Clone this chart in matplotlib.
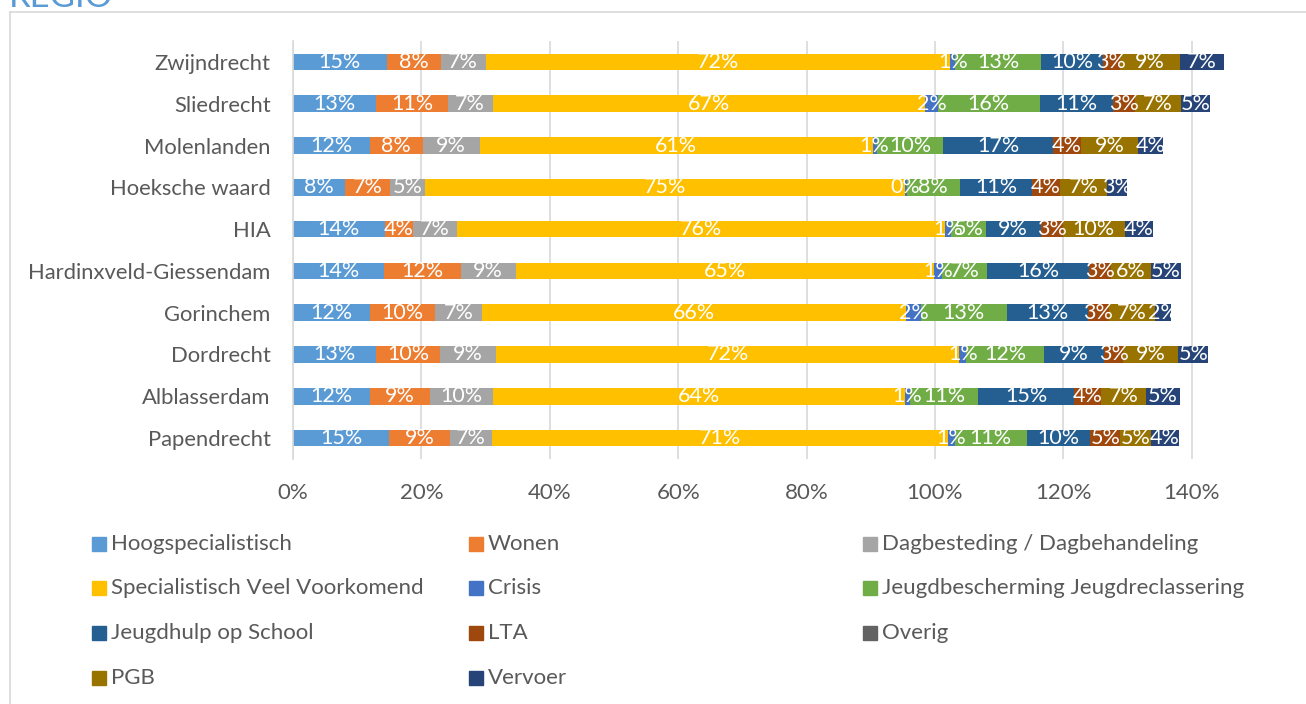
import matplotlib
matplotlib.use("Agg")
import matplotlib.pyplot as plt
import numpy as np
from matplotlib.patches import Rectangle
from matplotlib.lines import Line2D

plt.rcParams['font.family'] = ['Lato', 'DejaVu Sans']

categories = ["Zwijndrecht", "Sliedrecht", "Molenlanden", "Hoeksche waard", "HIA",
              "Hardinxveld-Giessendam", "Gorinchem", "Dordrecht", "Alblasserdam", "Papendrecht"]

series_names = ["Hoogspecialistisch", "Wonen", "Dagbesteding / Dagbehandeling",
                "Specialistisch Veel Voorkomend", "Crisis", "Jeugdbescherming Jeugdreclassering",
                "Jeugdhulp op School", "LTA", "Overig", "PGB", "Vervoer"]

hoogspecialistisch = [14.6, 13.0, 12.0, 8.1, 14.3, 14.1, 12.0, 12.9, 12.0, 15.0]
wonen = [8.4, 11.1, 8.2, 7.0, 4.4, 12.0, 10.1, 10.0, 9.4, 9.4]
dagbesteding = [7.0, 7.0, 8.9, 5.4, 6.9, 8.6, 7.4, 8.7, 9.7, 6.6]
svv = [72.4, 67.3, 61.2, 74.8, 75.9, 65.2, 66.0, 72.2, 64.2, 71.1]
crisis = [0.8, 2.1, 0.6, 0.3, 1.0, 1.2, 2.3, 1.1, 0.8, 1.0]
jeugdbescherming = [13.4, 15.8, 10.4, 8.3, 5.4, 7.0, 13.4, 12.1, 10.6, 11.2]
jeugdhulp_school = [9.6, 11.4, 17.1, 11.2, 8.6, 15.9, 12.6, 9.4, 15.0, 9.9]
lta = [2.6, 3.4, 4.4, 4.4, 3.4, 3.4, 3.3, 2.9, 4.1, 4.7]
overig = [0, 0, 0, 0, 0, 0, 0, 0, 0, 0]
pgb = [9.4, 7.2, 8.8, 7.3, 9.7, 6.2, 7.2, 8.6, 7.1, 4.8]
vervoer = [6.8, 4.6, 3.9, 3.1, 4.4, 4.7, 2.4, 4.7, 5.2, 4.3]

series_values = [hoogspecialistisch, wonen, dagbesteding, svv, crisis, jeugdbescherming,
                 jeugdhulp_school, lta, overig, pgb, vervoer]

colors = ["#5B9BD5", "#ED7D31", "#A5A5A5", "#FFC000", "#4472C4", "#70AD47",
          "#255E91", "#9E480E", "#636363", "#997300", "#264478"]

xticks = [0, 0.2, 0.4, 0.6, 0.8, 1.0, 1.2, 1.4]

W, H = 1306, 704
fig = plt.figure(figsize=(W / 100, H / 100), dpi=100)

# outer frame lines
fig.add_artist(Line2D([10 / W, 10 / W], [0, 1 - 12 / H], transform=fig.transFigure,
                      color="#d9d9d9", lw=1.2))
fig.add_artist(Line2D([10 / W, 1], [1 - 12 / H, 1 - 12 / H], transform=fig.transFigure,
                      color="#d9d9d9", lw=1.2))
fig.text(9 / W, 1 - 7 / H, "REGIO", color="#5B9BD5", fontsize=25, ha="left", va="baseline")

xmax = 1.46
px_per_unit = (1191.7 - 293) / 1.4
left = 293 / W
width = xmax * px_per_unit / W
top_px, bot_px = 41, 459
ax = fig.add_axes([left, 1 - bot_px / H, width, (bot_px - top_px) / H])

y = np.arange(len(categories))
cum = np.zeros(len(categories))
for name, vals, col in zip(series_names, series_values, colors):
    v = np.array(vals) / 100.0
    ax.barh(y, v, left=cum, height=0.4, color=col, edgecolor="none", label=name)
    for yi, (c, w) in enumerate(zip(cum, v)):
        if w > 0:
            ax.text(c + w / 2, yi, f"{w * 100:.0f}%", ha="center", va="center",
                    color="white", fontsize=15.5)
    cum += v

ax.set_ylim(len(categories) - 0.5, -0.5)
ax.set_xlim(0, xmax)
ax.set_yticks(y)
ax.set_yticklabels(categories, fontsize=15.8, color="#595959")
ax.set_xticks(xticks)
ax.set_xticklabels([f"{t * 100:.0f}%" for t in xticks], fontsize=16, color="#595959")
ax.tick_params(axis="y", length=0, pad=16)
ax.tick_params(axis="x", length=0, pad=17)
ax.grid(axis="x", color="#d9d9d9", lw=1.2)
ax.set_axisbelow(True)
for s in ["top", "right", "bottom"]:
    ax.spines[s].set_visible(False)
ax.spines["left"].set_color("#d9d9d9")
ax.spines["left"].set_linewidth(1.2)

# legend (row-wise, 3 columns)
col_x = [92, 469, 863]
row_y = [544, 588, 633, 678]
for i, (name, col) in enumerate(zip(series_names, colors)):
    r, c = divmod(i, 3)
    xs, ys = col_x[c], row_y[r]
    fig.add_artist(Rectangle((xs / W, 1 - (ys + 7) / H), 14 / W, 14 / H,
                             transform=fig.transFigure, color=col))
    fig.text((xs + 19) / W, 1 - ys / H, name, fontsize=16, color="#595959",
             ha="left", va="center")

fig.savefig("out.png", dpi=100)
